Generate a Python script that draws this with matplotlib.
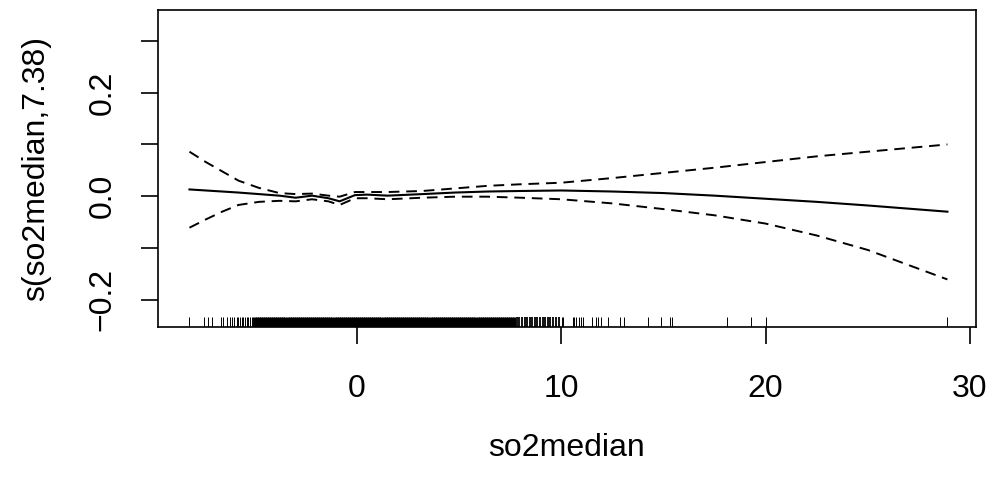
import numpy as np
import matplotlib
matplotlib.use("Agg")
import matplotlib.pyplot as plt
import matplotlib.transforms as mtransforms

plt.rcParams['font.family'] = ['Liberation Sans', 'DejaVu Sans']

# smooth term s(so2median) and its +/- 2 se bands
so2 = [-8.2, -7.4, -6.6, -5.8, -4.8, -3.8, -3.0, -2.2, -1.4, -0.85, -0.1,
       0.5, 1.5, 3.2, 4.8, 6.4, 8.0, 10.0, 12.5, 15.0, 17.5, 20.0, 22.5, 25.0, 28.9]
fit = [0.013, 0.011, 0.009, 0.007, 0.004, 0.001, -0.003, 0.001, -0.004, -0.010, 0.002,
       0.003, 0.001, 0.004, 0.007, 0.009, 0.010, 0.011, 0.009, 0.006, 0.001, -0.005, -0.011,
       -0.018, -0.030]
upper = [0.086, 0.066, 0.048, 0.030, 0.016, 0.006, 0.004, 0.005, 0.001, -0.001, 0.008,
         0.008, 0.008, 0.010, 0.015, 0.020, 0.023, 0.026, 0.035, 0.045, 0.055, 0.066, 0.077,
         0.086, 0.100]
lower = [-0.061, -0.045, -0.030, -0.017, -0.011, -0.009, -0.010, -0.006, -0.010, -0.017, -0.004,
         -0.004, -0.006, -0.003, -0.001, -0.001, -0.003, -0.006, -0.014, -0.025, -0.037, -0.053,
         -0.076, -0.104, -0.161]

# observed so2median values (rug)
rug_sparse = [-8.21, -7.47, -7.31, -7.11, -6.67, -6.57, -6.35, -6.22, -6.13, -6.02,
              -5.89, -5.81, -5.73, -5.64, -5.56, -5.48, -5.40, -5.32, -5.24, -5.16, -5.08,
              10.02, 10.10, 10.56, 10.62, 10.70, 10.88, 10.95, 11.08, 11.49, 11.70,
              11.81, 11.93, 12.27, 12.87, 13.08, 14.26, 14.88, 15.32, 15.40, 18.10,
              19.27, 20.02, 28.86]
rug_dense = [-5.0, -4.9, -4.8, -4.7, -4.6, -4.5, -4.4, -4.3, -4.2, -4.1, -4.0,
             -3.9, -3.8, -3.7, -3.6, -3.5, -3.4, -3.3, -3.2, -3.1, -3.0,
             -2.9, -2.8, -2.7, -2.6, -2.5, -2.4, -2.3, -2.2, -2.1, -2.0,
             -1.9, -1.8, -1.7, -1.6, -1.5, -1.4, -1.3, -1.2, -1.1, -1.0,
             -0.9, -0.8, -0.7, -0.6, -0.5, -0.4, -0.3, -0.2, -0.1, 0.0,
             0.1, 0.2, 0.3, 0.4, 0.5, 0.6, 0.7, 0.8, 0.9, 1.0,
             1.1, 1.2, 1.3, 1.4, 1.5, 1.6, 1.7, 1.8, 1.9, 2.0,
             2.1, 2.2, 2.3, 2.4, 2.5, 2.6, 2.7, 2.8, 2.9, 3.0,
             3.1, 3.2, 3.3, 3.4, 3.5, 3.6, 3.7, 3.8, 3.9, 4.0,
             4.1, 4.2, 4.3, 4.4, 4.5, 4.6, 4.7, 4.8, 4.9, 5.0,
             5.1, 5.2, 5.3, 5.4, 5.5, 5.6, 5.7, 5.8, 5.9, 6.0,
             6.1, 6.2, 6.3, 6.4, 6.5, 6.6, 6.7, 6.8, 6.9, 7.0,
             7.1, 7.2, 7.3, 7.4, 7.5, 7.6, 7.7]
rug_mid = [7.85, 7.95, 8.1, 8.2, 8.3, 8.45, 8.55, 8.7, 8.8, 8.95, 9.1, 9.2,
           9.35, 9.45, 9.6, 9.75, 9.9]

x_ticks = [0, 10, 20, 30]
y_ticks = [-0.2, -0.1, 0.0, 0.1, 0.2, 0.3]
y_labels = ['\u22120.2', '', '0.0', '', '0.2', '']

fig = plt.figure(figsize=(9.94, 4.84), dpi=100)
ax = fig.add_axes([158 / 994, 1 - 327 / 484, (976 - 158) / 994, (327 - 10) / 484])

ax.plot(so2, fit, color='black', lw=1.5)
ax.plot(so2, upper, color='black', lw=1.4, dashes=(5.5, 3.5))
ax.plot(so2, lower, color='black', lw=1.4, dashes=(5.5, 3.5))

trans = mtransforms.blended_transform_factory(ax.transData, ax.transAxes)
ax.vlines(rug_sparse, 0, 0.03, transform=trans, color='black', lw=0.7)
ax.vlines(rug_mid, 0, 0.03, transform=trans, color='black', lw=1.3)
ax.vlines(rug_dense, 0, 0.03, transform=trans, color='black', lw=2.2)

ax.set_xlim(-9.74, 30.3)
ax.set_ylim(-0.253, 0.36)
ax.set_xticks(x_ticks)
ax.set_xticklabels([str(t) for t in x_ticks])
ax.set_yticks(y_ticks)
ax.set_yticklabels(y_labels, rotation=90, va='center')

ax.tick_params(axis='both', direction='out', length=12, width=1.2, labelsize=23, color='black')
ax.tick_params(axis='x', pad=22)
ax.tick_params(axis='y', pad=17)
for s in ax.spines.values():
    s.set_linewidth(1.2)

ax.set_xlabel('so2median', fontsize=23, labelpad=21)
ax.set_ylabel('s(so2median,7.38)', fontsize=23, labelpad=26)

fig.savefig('out.png', dpi=100)
